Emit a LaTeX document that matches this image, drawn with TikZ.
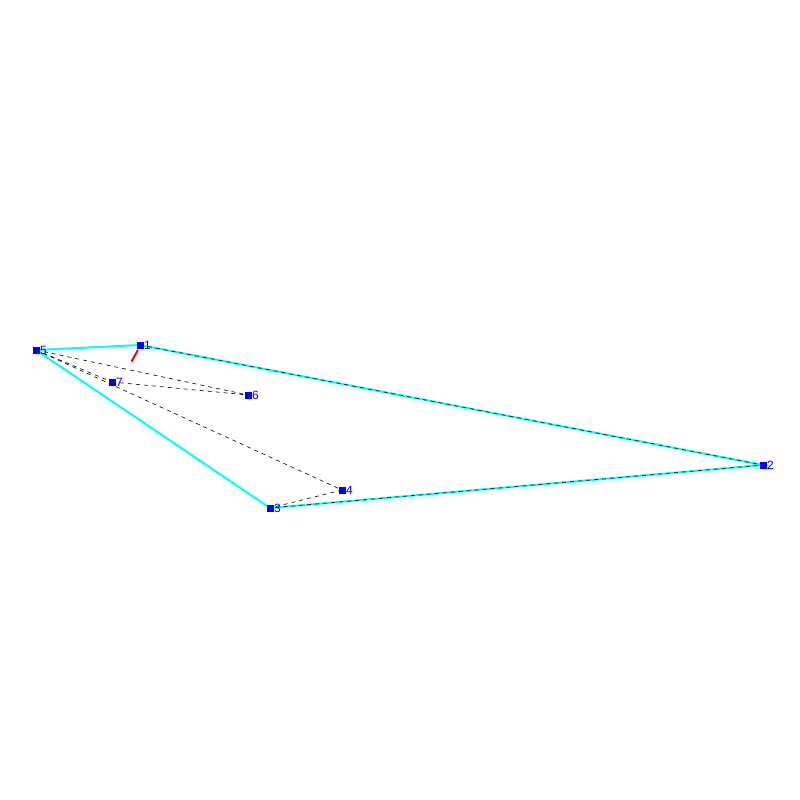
\documentclass[tikz,border=0pt]{standalone}
\usepackage{fontspec}
\setmainfont{Liberation Sans}
\definecolor{aqua}{RGB}{0,255,255}
\definecolor{pblue}{RGB}{0,0,255}
\definecolor{pred}{RGB}{255,0,0}
\begin{document}
\begin{tikzpicture}[x=1pt,y=-1pt,
  pt/.style={fill=pblue,draw=none,minimum size=7pt,inner sep=0pt,outer sep=0pt},
  lab/.style={text=pblue,font=\fontsize{12}{12}\selectfont,inner sep=0pt,anchor=west},
  edge/.style={aqua,line width=2pt},
  dsh/.style={black,dash pattern=on 4pt off 4pt,line width=0.6pt},
  redl/.style={pred,line width=2pt}]
\useasboundingbox (0,0) rectangle (800,800);
\coordinate (c1) at (140,345);
\coordinate (c2) at (763,465);
\coordinate (c3) at (270,508);
\coordinate (c4) at (342,490);
\coordinate (c5) at (36,350);
\coordinate (c6) at (248,395);
\coordinate (c7) at (112,382);
\coordinate (r1) at (138,350);
\coordinate (r2) at (131.5,361.5);
\draw[edge] (c5) -- (c1) -- (c2) -- (c3) -- cycle;
\draw[dsh] (c1) -- (c2) -- (c3);
\draw[dsh] (c5) -- (c6);
\draw[dsh] (c5) -- (c7);
\draw[dsh] (c7) -- (c6);
\draw[dsh] (c5) -- (c4);
\draw[dsh] (c4) -- (c3);
\draw[redl] (r1) -- (r2);
\foreach \i in {1,...,7} {
  \node[pt] (n\i) at (c\i) {};
  \node[lab] (l\i) at ([xshift=4pt]c\i) {\i};
}
\end{tikzpicture}
\end{document}
